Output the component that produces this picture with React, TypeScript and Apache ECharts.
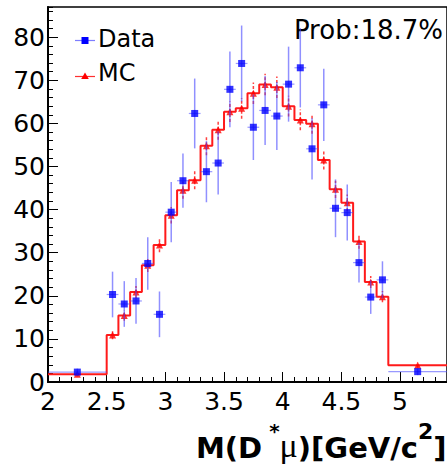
import React, { useEffect, useRef } from "react";
import * as echarts from "echarts";

// Bin edges (GeV/c^2): one wide bin 2.0-2.5, 0.1-wide bins 2.5-4.9, one wide bin 4.9-5.4
const binEdges = [2.0, 2.5, 2.6, 2.7, 2.8, 2.9, 3.0, 3.1, 3.2, 3.3, 3.4, 3.5, 3.6, 3.7, 3.8, 3.9, 4.0, 4.1, 4.2, 4.3, 4.4, 4.5, 4.6, 4.7, 4.8, 4.9, 5.4];
const dataVals = [2.3, 20.3, 18.1, 18.8, 27.5, 15.7, 39.4, 46.7, 62.3, 48.8, 50.8, 67.9, 73.9, 59.1, 63.0, 61.7, 69.1, 72.9, 54.1, 64.3, 40.3, 39.3, 27.7, 19.7, 23.7, 2.4];
const dataErr = [0.8, 5.3, 5.3, 5.3, 6.1, 5.3, 7.0, 6.3, 8.1, 7.1, 7.3, 8.8, 8.8, 7.6, 8.0, 7.9, 8.7, 9.2, 7.1, 8.4, 6.7, 6.5, 4.6, 3.9, 4.3, 0.8];
const mcVals = [1.8, 10.9, 15.4, 20.9, 27.1, 31.8, 38.7, 44.5, 46.8, 54.8, 58.5, 62.7, 63.5, 67.0, 69.0, 68.4, 64.0, 60.8, 59.9, 51.5, 44.7, 41.6, 32.6, 23.2, 19.8, 3.9];
const mcErr = [0.5, 1.0, 1.2, 1.4, 1.6, 1.7, 1.9, 2.0, 2.1, 2.2, 2.3, 2.4, 2.4, 2.5, 2.5, 2.5, 2.4, 2.4, 2.3, 2.2, 2.0, 1.9, 1.7, 1.4, 1.3, 0.6];

const xTitle = "{b|M(D}{sa| *}{mu|μ}{b|)[GeV/c}{s2|2}{b|]}";
const probText = "Prob:18.7%";
const legendNames = ["Data", "MC"];

const FONT = "DejaVu Sans";

export default function App() {
  const ref = useRef<HTMLDivElement>(null);
  useEffect(() => {
    if (!ref.current) return;
    const chart = echarts.init(ref.current, undefined, { renderer: "svg" });

    const centers = dataVals.map((_, i) => (binEdges[i] + binEdges[i + 1]) / 2);
    const halfW = dataVals.map((_, i) => (binEdges[i + 1] - binEdges[i]) / 2);

    const stepData: number[][] = binEdges.map((e, i) => [e, mcVals[Math.min(i, mcVals.length - 1)]]);
    const dataPts = centers.map((c, i) => [c, dataVals[i]]);
    const mcPts = centers.map((c, i) => [c, mcVals[i]]);
    const dataErrItems = centers.map((c, i) => [c, dataVals[i], dataErr[i], halfW[i]]);
    const mcErrItems = centers.map((c, i) => [c, mcVals[i], mcErr[i]]);

    const option: any = {
      animation: false,
      backgroundColor: "#fff",
      grid: {
        left: 48,
        top: 7,
        width: 401,
        height: 375,
        show: true,
        borderColor: "#000",
        borderWidth: 1.5,
        backgroundColor: "transparent",
      },
      xAxis: [
        {
          type: "value",
          position: "bottom",
          min: 2,
          max: 5.4,
          interval: 0.5,
          axisLine: { show: true, onZero: false, lineStyle: { color: "#000", width: 2 } },
          axisTick: { show: true, inside: true, length: 10, lineStyle: { color: "#000", width: 1 } },
          axisLabel: {
            show: true,
            margin: 7,
            fontSize: 25,
            fontFamily: FONT,
            color: "#000",
            showMaxLabel: false,
            formatter: (v: number) => String(v),
          },
          splitLine: { show: false },
        },
        {
          type: "value",
          position: "bottom",
          min: 2,
          max: 5.4,
          interval: 0.1,
          axisLine: { show: false, onZero: false },
          axisTick: { show: true, inside: true, length: 5, lineStyle: { color: "#000", width: 1 } },
          axisLabel: { show: false },
          splitLine: { show: false },
        },
      ],
      yAxis: [
        {
          type: "value",
          position: "left",
          min: 0,
          max: 87,
          interval: 10,
          axisLine: { show: true, onZero: false, lineStyle: { color: "#000", width: 2 } },
          axisTick: { show: true, inside: true, length: 10, lineStyle: { color: "#000", width: 1 } },
          axisLabel: {
            show: true,
            margin: 3,
            fontSize: 25,
            fontFamily: FONT,
            color: "#000",
            showMaxLabel: false,
          },
          splitLine: { show: false },
        },
        {
          type: "value",
          position: "left",
          min: 0,
          max: 87,
          interval: 2,
          axisLine: { show: false, onZero: false },
          axisTick: { show: true, inside: true, length: 5, lineStyle: { color: "#000", width: 1 } },
          axisLabel: { show: false },
          splitLine: { show: false },
        },
      ],
      series: [
        {
          name: "MC",
          type: "line",
          step: "end",
          data: stepData,
          showSymbol: false,
          symbol: "none",
          lineStyle: { color: "#ff1a1a", width: 2 },
          z: 1,
        },
        {
          type: "custom",
          name: "MCerr",
          data: mcErrItems,
          z: 2,
          renderItem: (params: any, api: any) => {
            const x = api.value(0);
            const y = api.value(1);
            const e = api.value(2);
            const p1 = api.coord([x, y - e]);
            const p2 = api.coord([x, y + e]);
            return {
              type: "line",
              shape: { x1: p1[0], y1: p1[1], x2: p2[0], y2: p2[1] },
              style: { stroke: "rgba(255,0,0,0.75)", lineWidth: 1.5, lineDash: [3, 2] },
            };
          },
        },
        {
          name: "MCpts",
          type: "scatter",
          data: mcPts,
          symbol: "triangle",
          symbolSize: 7,
          itemStyle: { color: "#ff0000" },
          z: 3,
        },
        {
          type: "custom",
          name: "DataErr",
          data: dataErrItems,
          z: 4,
          renderItem: (params: any, api: any) => {
            const x = api.value(0);
            const y = api.value(1);
            const e = api.value(2);
            const hw = api.value(3);
            const p1 = api.coord([x, y - e]);
            const p2 = api.coord([x, y + e]);
            const h1 = api.coord([x - hw, y]);
            const h2 = api.coord([x + hw, y]);
            return {
              type: "group",
              children: [
                {
                  type: "line",
                  shape: { x1: p1[0], y1: p1[1], x2: p2[0], y2: p2[1] },
                  style: { stroke: "rgba(70,70,255,0.6)", lineWidth: 1.5 },
                },
                {
                  type: "line",
                  shape: { x1: h1[0], y1: h1[1], x2: h2[0], y2: h2[1] },
                  style: { stroke: "rgba(70,70,255,0.55)", lineWidth: 1.2 },
                },
              ],
            };
          },
        },
        {
          name: "Data",
          type: "scatter",
          data: dataPts,
          symbol: "rect",
          symbolSize: 7,
          itemStyle: { color: "#0000ff" },
          z: 5,
        },
      ],
      graphic: [
        { type: "line", shape: { x1: 75, y1: 40.5, x2: 95, y2: 40.5 }, style: { stroke: "rgba(70,70,255,0.7)", lineWidth: 1.2 } },
        { type: "rect", shape: { x: 81.5, y: 37, width: 7, height: 7 }, style: { fill: "#0000ff" } },
        {
          type: "text",
          x: 98,
          y: 38.5,
          style: { text: legendNames[0], font: `24px '${FONT}'`, fill: "#000", textAlign: "left", textVerticalAlign: "middle" },
        },
        { type: "line", shape: { x1: 75, y1: 76.5, x2: 95, y2: 76.5 }, style: { stroke: "#ff3030", lineWidth: 1.2 } },
        { type: "polygon", shape: { points: [[85, 72.5], [81.2, 79], [88.8, 79]] }, style: { fill: "#ff0000" } },
        {
          type: "text",
          x: 98,
          y: 72.5,
          style: { text: legendNames[1], font: `24px '${FONT}'`, fill: "#000", textAlign: "left", textVerticalAlign: "middle" },
        },
        {
          type: "text",
          x: 443,
          y: 29.5,
          style: { text: probText, font: `26px '${FONT}'`, fill: "#000", textAlign: "right", textVerticalAlign: "middle" },
        },
        {
          type: "text",
          x: 196,
          y: 462.5,
          style: {
            text: xTitle,
            fill: "#000",
            textAlign: "left",
            textVerticalAlign: "bottom",
            rich: {
              b: { fontFamily: FONT, fontWeight: "bold", fontSize: 29, verticalAlign: "bottom", fill: "#000" },
              mu: { fontFamily: "Liberation Serif", fontWeight: "normal", fontSize: 34, verticalAlign: "bottom", fill: "#000" },
              sa: { fontFamily: FONT, fontWeight: "bold", fontSize: 20, verticalAlign: "top", lineHeight: 42, fill: "#000" },
              s2: { fontFamily: FONT, fontWeight: "bold", fontSize: 22, verticalAlign: "top", lineHeight: 42, fill: "#000" },
            },
          },
        },
      ],
    };

    chart.setOption(option);
    return () => chart.dispose();
  }, []);

  return (
    <div
      ref={ref}
      style={{ position: "absolute", left: 0, top: 0, width: 447, height: 468 }}
    />
  );
}
